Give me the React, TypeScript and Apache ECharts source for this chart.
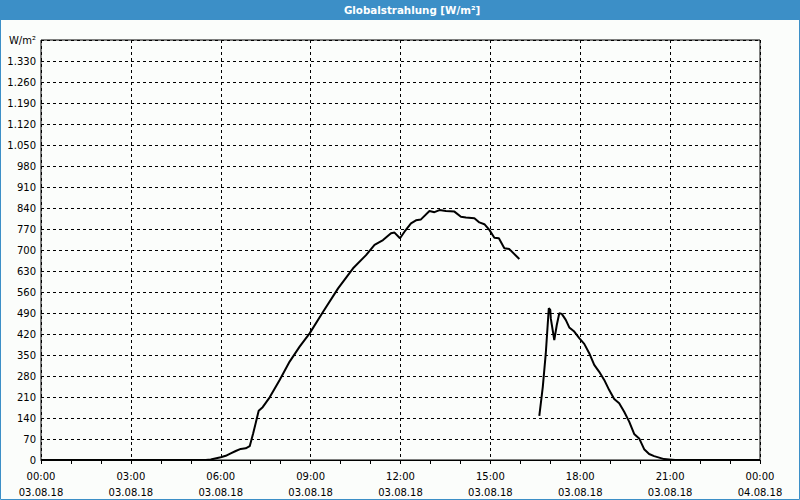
import React, { useEffect, useRef } from "react";
import * as echarts from "echarts";

const TITLE = "Globalstrahlung [W/m²]";
const UNIT = "W/m²";
const DATE_DAY = "03.08.18";
const DATE_NEXT = "04.08.18";

const times: string[] = [
  "00:00", "05:30", "05:40", "06:00", "06:10", "06:20", "06:30", "06:40", "06:50", "06:58",
  "07:05", "07:16", "07:24", "07:38", "07:58", "08:18", "08:38", "08:58", "09:25", "09:55",
  "10:25", "10:51", "11:08", "11:25", "11:41", "11:48", "11:59", "12:08", "12:21", "12:31",
  "12:41", "12:58", "13:08", "13:18", "13:31", "13:48", "14:01", "14:11", "14:28", "14:38",
  "14:48", "14:58", "15:08", "15:17", "15:28", "15:38", "15:58", "16:20", "16:38", "16:45",
  "16:51", "16:57", "17:00", "17:01", "17:08", "17:13", "17:18", "17:23", "17:31", "17:38",
  "17:48", "17:58", "18:08", "18:18", "18:28", "18:38", "18:48", "18:58", "19:08", "19:18",
  "19:28", "19:38", "19:48", "19:58", "20:08", "20:18", "20:28", "20:38", "20:48", "20:58",
  "21:10", "24:00",
];

const values: (number | null)[] = [
  0, 0, 2, 9, 14, 22, 30, 37, 39, 46,
  89, 164, 176, 209, 267, 328, 378, 422, 494, 572,
  639, 683, 717, 733, 756, 758, 739, 761, 789, 799,
  802, 830, 826, 833, 830, 828, 811, 808, 806, 792,
  786, 767, 741, 739, 706, 703, 670, null, 147, 244,
  356, 506, 500, 472, 400, 450, 489, 487, 467, 442,
  428, 406, 387, 356, 317, 294, 267, 233, 203, 189,
  161, 128, 87, 72, 36, 20, 13, 8, 3, 2,
  0, 0,
];

const toMin = (t: string) => {
  const [h, m] = t.split(":").map(Number);
  return h * 60 + m;
};

const fmtY = (v: number) => {
  if (v >= 1400) return UNIT;
  if (v >= 1000) {
    const th = Math.floor(v / 1000);
    const rest = String(v % 1000).padStart(3, "0");
    return th + "." + rest;
  }
  return String(v);
};

const fmtX = (v: number) => {
  const h = Math.floor(v / 60) % 24;
  const m = v % 60;
  const hh = String(h).padStart(2, "0") + ":" + String(m).padStart(2, "0");
  return hh + "\n" + (v >= 1440 ? DATE_NEXT : DATE_DAY);
};

export default function App() {
  const ref = useRef<HTMLDivElement>(null);
  useEffect(() => {
    if (!ref.current) return;
    const chart = echarts.init(ref.current, null, { renderer: "svg" });
    const font = "DejaVu Sans, Verdana, sans-serif";
    const data = times.map((t, i) => [toMin(t), values[i] === null ? "-" : values[i]]);
    chart.setOption({
      animation: false,
      backgroundColor: "#fbfdfb",
      grid: {
        left: 41,
        right: 40,
        top: 40,
        bottom: 40,
        show: true,
        borderColor: "#000",
        borderWidth: 1,
        backgroundColor: "transparent",
      },
      xAxis: {
        type: "value",
        min: 0,
        max: 1440,
        interval: 180,
        axisLine: { show: true, lineStyle: { color: "#000", width: 1 } },
        axisTick: { show: true, length: 4, lineStyle: { color: "#000" } },
        minorTick: { show: true, splitNumber: 3, length: 4, lineStyle: { color: "#000" } },
        splitLine: { show: true, lineStyle: { color: "#000", type: [3, 3], width: 1 } },
        axisLabel: {
          formatter: fmtX,
          color: "#000",
          fontFamily: font,
          fontSize: 10,
          lineHeight: 16,
          margin: 8,
          showMinLabel: true,
          showMaxLabel: true,
        },
      },
      yAxis: {
        type: "value",
        min: 0,
        max: 1400,
        interval: 70,
        axisLine: { show: false },
        axisTick: { show: false },
        splitLine: { show: true, lineStyle: { color: "#000", type: [3, 3], width: 1 } },
        axisLabel: {
          formatter: fmtY,
          color: "#000",
          fontFamily: font,
          fontSize: 10,
          margin: 5,
        },
      },
      series: [
        {
          type: "line",
          data,
          showSymbol: false,
          connectNulls: false,
          lineStyle: { color: "#000", width: 2 },
          itemStyle: { color: "#000" },
        },
      ],
      graphic: [
        {
          type: "rect",
          shape: { x: 0, y: 0, width: 800, height: 20 },
          style: { fill: "#3c8fc7" },
          z: 100,
        },
        {
          type: "rect",
          shape: { x: 0.5, y: 0.5, width: 799, height: 499 },
          style: { fill: "none", stroke: "#3c8fc7", lineWidth: 1 },
          z: 100,
        },
        {
          type: "text",
          x: 412,
          y: 10,
          style: {
            text: TITLE,
            fill: "#fff",
            font: "bold 10.3px DejaVu Sans, Verdana, sans-serif",
            align: "center",
            verticalAlign: "middle",
          },
          z: 101,
        },
      ],
    });
    return () => chart.dispose();
  }, []);
  return (
    <div
      ref={ref}
      style={{ position: "fixed", left: 0, top: 0, width: 800, height: 500 }}
    />
  );
}
